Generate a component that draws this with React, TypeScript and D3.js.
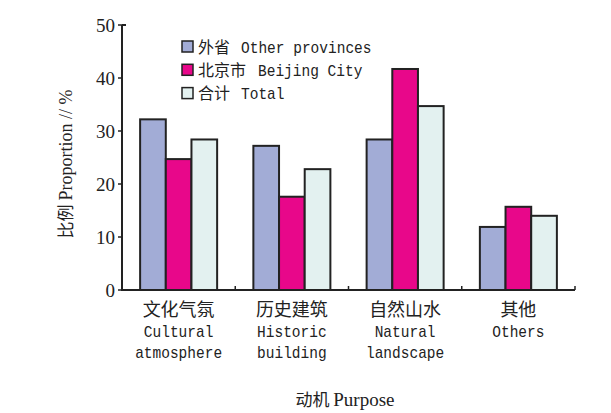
import React from "react";
import * as d3 from "d3";

const categoriesCn = ["文化气氛", "历史建筑", "自然山水", "其他"];
const categoriesEn = [["Cultural", "atmosphere"], ["Historic", "building"], ["Natural", "landscape"], ["Others"]];
const seriesNames = ["外省", "北京市", "合计"];
const seriesNamesEn = ["Other provinces", "Beijing City", "Total"];
const seriesColors = ["#a2acd6", "#e8078a", "#e3f1f0"];
const otherProvinces = [32.2, 27.2, 28.4, 11.9];
const beijingCity = [24.7, 17.6, 41.7, 15.7];
const total = [28.4, 22.8, 34.7, 14.0];
const yTicks = [0, 10, 20, 30, 40, 50];

const W = 611, H = 413;
const left = 122, right = 575, top = 25, bottom = 290;
const CJK = "'Noto Sans CJK SC', sans-serif";
const MONO = "'Liberation Mono', 'DejaVu Sans Mono', monospace";
const SERIF = "'Liberation Serif', 'DejaVu Serif', serif";
const INK = "#222";
const MONO_ADV = 8.7;

function Mono({ x, y, text, anchor }: { x: number; y: number; text: string; anchor?: string }) {
  return (
    <text
      x={x}
      y={y}
      textAnchor={anchor || "start"}
      fontFamily={MONO}
      fontSize={17}
      textLength={text.length * MONO_ADV}
      lengthAdjust="spacingAndGlyphs"
      fill={INK}
    >
      {text}
    </text>
  );
}

export default function App() {
  const series = [otherProvinces, beijingCity, total];
  const x = d3.scaleBand<number>().domain(d3.range(categoriesCn.length)).range([left, right]).paddingInner(0.32).paddingOuter(0.16);
  const xs = d3.scaleBand<number>().domain(d3.range(series.length)).range([0, x.bandwidth()]);
  const y = d3.scaleLinear().domain([0, 50]).range([bottom, top]);
  const step = x.step();
  const boundaries = d3.range(1, categoriesCn.length + 1).map((i) => left + i * step);

  return (
    <svg width={W} height={H} style={{ position: "absolute", left: 0, top: 0, background: "#fff" }}>
      {/* bars */}
      {categoriesCn.map((_, ci) =>
        series.map((s, si) => (
          <rect
            key={`${ci}-${si}`}
            x={(x(ci) as number) + (xs(si) as number)}
            y={y(s[ci])}
            width={xs.bandwidth()}
            height={y(0) - y(s[ci])}
            fill={seriesColors[si]}
            stroke={INK}
            strokeWidth={2}
          />
        ))
      )}
      {/* axes */}
      <path d={`M${left},${top}V${bottom}H${right}`} fill="none" stroke={INK} strokeWidth={2} />
      <line x1={left} x2={left + 4} y1={top} y2={top} stroke={INK} strokeWidth={2} />
      {yTicks.map((t) => (
        <g key={t}>
          <line x1={left - 4} x2={left} y1={y(t)} y2={y(t)} stroke={INK} strokeWidth={1.5} />
          <text x={115} y={y(t)} dy="0.35em" textAnchor="end" fontFamily={SERIF} fontSize={19} fill={INK}>
            {t}
          </text>
        </g>
      ))}
      {boundaries.map((b, i) => (
        <line key={i} x1={b} x2={b} y1={bottom} y2={bottom - 4} stroke={INK} strokeWidth={1.5} />
      ))}
      {/* category labels */}
      {categoriesCn.map((c, ci) => {
        const cx = (x(ci) as number) + x.bandwidth() / 2;
        return (
          <g key={c}>
            <text x={cx} y={316} textAnchor="middle" fontFamily={CJK} fontSize={18} fill={INK}>
              {c}
            </text>
            {categoriesEn[ci].map((l, li) => (
              <Mono key={l} x={cx} y={337 + li * 21} text={l} anchor="middle" />
            ))}
          </g>
        );
      })}
      {/* x title */}
      <text x={345} y={406} textAnchor="middle" fill={INK}>
        <tspan fontFamily={CJK} fontSize={17}>动机 </tspan>
        <tspan fontFamily={SERIF} fontSize={19}>Purpose</tspan>
      </text>
      {/* y title */}
      <text transform="translate(72,164) rotate(-90)" textAnchor="middle" fill={INK}>
        <tspan fontFamily={CJK} fontSize={17}>比例 </tspan>
        <tspan fontFamily={SERIF} fontSize={18}>Proportion // %</tspan>
      </text>
      {/* legend */}
      {seriesNames.map((n, i) => {
        const cy = 46.5 + i * 23.3;
        return (
          <g key={n}>
            <rect x={182} y={cy - 5.5} width={11} height={11} fill={seriesColors[i]} stroke={INK} strokeWidth={1.5} />
            <text x={198} y={cy + 6} fontFamily={CJK} fontSize={16} fill={INK}>
              {n}
            </text>
            <Mono x={198 + n.length * 17 + 9} y={cy + 6} text={seriesNamesEn[i]} />
          </g>
        );
      })}
    </svg>
  );
}
